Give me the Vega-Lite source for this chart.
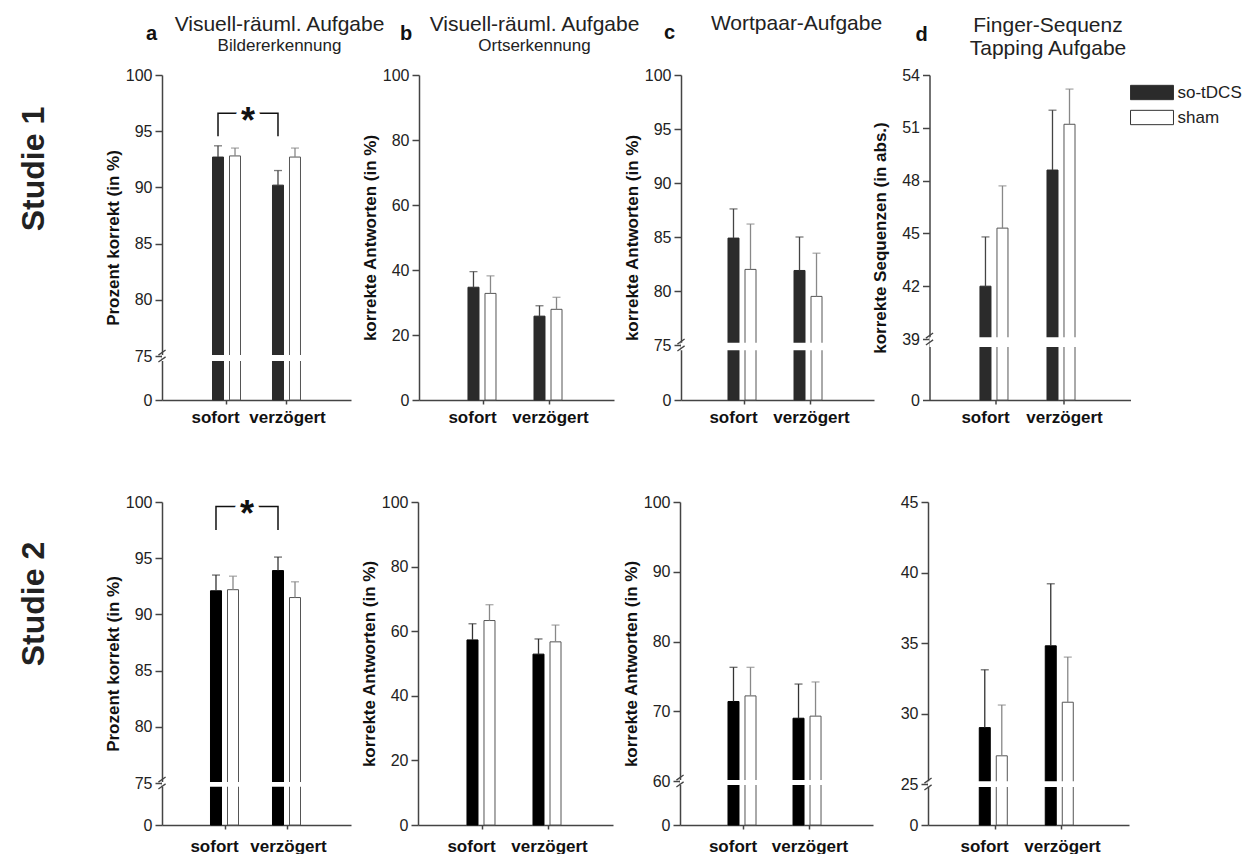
{
"$schema": "https://vega.github.io/schema/vega-lite/v6.json",
"padding": {"left": 18, "top": 13, "right": 3, "bottom": 0},
"config": {
 "font": "Liberation Sans",
 "view": {"stroke": null},
 "axis": {"zindex": 1, "grid": false, "domainColor": "#444444", "domainWidth": 1.5, "tickColor": "#444444", "tickWidth": 1.5, "labelColor": "#222222", "titleColor": "#111111"},
 "axisX": {"tickSize": 4, "labelFontSize": 17, "labelFontWeight": "bold", "labelPadding": 5, "labelAngle": 0, "labelColor": "#111111", "labelOffset": {"condition": {"test": "datum.value == 'sofort'", "value": -11}, "value": 1}},
 "axisY": {"tickSize": 7, "labelFontSize": 16, "labelPadding": 3, "titleFontSize": 17, "titleFontWeight": "bold", "minExtent": 38, "maxExtent": 38, "titlePadding": 2},
 "title": {"font": "Liberation Sans", "color": "#222222"}
},
"datasets": {
 "bars": [
  {"panel":"a1","time":"sofort","group":"so-tDCS","value":92.7,"upper":93.7},
  {"panel":"a1","time":"sofort","group":"sham","value":92.8,"upper":93.5},
  {"panel":"a1","time":"verzögert","group":"so-tDCS","value":90.2,"upper":91.5},
  {"panel":"a1","time":"verzögert","group":"sham","value":92.7,"upper":93.5},
  {"panel":"b1","time":"sofort","group":"so-tDCS","value":34.7,"upper":39.5},
  {"panel":"b1","time":"sofort","group":"sham","value":32.8,"upper":38.2},
  {"panel":"b1","time":"verzögert","group":"so-tDCS","value":25.8,"upper":29.0},
  {"panel":"b1","time":"verzögert","group":"sham","value":27.9,"upper":31.6},
  {"panel":"c1","time":"sofort","group":"so-tDCS","value":84.9,"upper":87.6},
  {"panel":"c1","time":"sofort","group":"sham","value":82.0,"upper":86.2},
  {"panel":"c1","time":"verzögert","group":"so-tDCS","value":81.9,"upper":85.0},
  {"panel":"c1","time":"verzögert","group":"sham","value":79.5,"upper":83.5},
  {"panel":"d1","time":"sofort","group":"so-tDCS","value":42.0,"upper":44.8},
  {"panel":"d1","time":"sofort","group":"sham","value":45.3,"upper":47.7},
  {"panel":"d1","time":"verzögert","group":"so-tDCS","value":48.6,"upper":52.0},
  {"panel":"d1","time":"verzögert","group":"sham","value":51.2,"upper":53.2},
  {"panel":"a2","time":"sofort","group":"so-tDCS","value":92.1,"upper":93.5},
  {"panel":"a2","time":"sofort","group":"sham","value":92.2,"upper":93.4},
  {"panel":"a2","time":"verzögert","group":"so-tDCS","value":93.9,"upper":95.1},
  {"panel":"a2","time":"verzögert","group":"sham","value":91.5,"upper":92.9},
  {"panel":"b2","time":"sofort","group":"so-tDCS","value":57.3,"upper":62.3},
  {"panel":"b2","time":"sofort","group":"sham","value":63.3,"upper":68.2},
  {"panel":"b2","time":"verzögert","group":"so-tDCS","value":52.9,"upper":57.6},
  {"panel":"b2","time":"verzögert","group":"sham","value":56.7,"upper":61.9},
  {"panel":"c2","time":"sofort","group":"so-tDCS","value":71.4,"upper":76.3},
  {"panel":"c2","time":"sofort","group":"sham","value":72.2,"upper":76.3},
  {"panel":"c2","time":"verzögert","group":"so-tDCS","value":69.0,"upper":73.9},
  {"panel":"c2","time":"verzögert","group":"sham","value":69.3,"upper":74.2},
  {"panel":"d2","time":"sofort","group":"so-tDCS","value":29.0,"upper":33.1},
  {"panel":"d2","time":"sofort","group":"sham","value":27.0,"upper":30.6},
  {"panel":"d2","time":"verzögert","group":"so-tDCS","value":34.8,"upper":39.2},
  {"panel":"d2","time":"verzögert","group":"sham","value":30.8,"upper":34.0}
 ],
 "brk": [
  {"panel":"a1","brk":75,"lo":66.5,"hi":75.1},
  {"panel":"c1","brk":75,"lo":68,"hi":75.2},
  {"panel":"d1","brk":39,"lo":33.9,"hi":39.1},
  {"panel":"a2","brk":75,"lo":68.2,"hi":75.1},
  {"panel":"c2","brk":60,"lo":54.5,"hi":60.15},
  {"panel":"d2","brk":25,"lo":23.2,"hi":25.2}
 ],
 "sig": [
  {"panel":"a1","time":"sofort","group":"so-tDCS","y":94.55,"ord":1},
  {"panel":"a1","time":"sofort","group":"so-tDCS","y":96.6,"ord":2},
  {"panel":"a1","time":"verzögert","group":"so-tDCS","y":96.6,"ord":3},
  {"panel":"a1","time":"verzögert","group":"so-tDCS","y":94.55,"ord":4},
  {"panel":"a2","time":"sofort","group":"so-tDCS","y":97.5,"ord":1},
  {"panel":"a2","time":"sofort","group":"so-tDCS","y":99.6,"ord":2},
  {"panel":"a2","time":"verzögert","group":"so-tDCS","y":99.6,"ord":3},
  {"panel":"a2","time":"verzögert","group":"so-tDCS","y":97.5,"ord":4}
 ],
 "star": [
  {"panel":"a1","time":"sofort","group":"so-tDCS","y":96.6,"label":"*"},
  {"panel":"a2","time":"sofort","group":"so-tDCS","y":99.6,"label":"*"}
 ]
},
"spacing": 69,
"resolve": {"scale": {"fill": "independent"}, "legend": {"fill": "independent"}},
"vconcat": [
 {
  "title": {"text": "Studie 1", "orient": "left", "anchor": "middle", "fontSize": 32, "fontWeight": "bold", "offset": 53, "dx": 50, "color": "#222222"},
  "spacing": -11.5,
  "resolve": {"scale": {"fill": "independent"}, "legend": {"fill": "independent"}},
  "hconcat": [
   {
    "spacing": -17,
    "resolve": {"scale": {"fill": "independent"}, "legend": {"fill": "independent"}},
    "hconcat": [
     {
      "spacing": -24,
      "resolve": {"scale": {"fill": "independent"}, "legend": {"fill": "independent"}},
      "hconcat": [
       {
        "title": {"text": "a", "anchor": "start", "fontSize": 20, "fontWeight": "bold", "dx": 42, "dy": 30, "offset": 0, "color": "#111111"},
        "vconcat": [
         {
          "width": 189, "height": 325,
          "title": {"text": "Visuell-räuml. Aufgabe", "subtitle": "Bildererkennung", "frame": "group", "anchor": "middle", "dx": 23, "offset": 13, "fontSize": 21, "fontWeight": "normal", "subtitleFontSize": 17, "subtitleColor": "#222222", "subtitlePadding": 3},
          "layer": [
           {"layer": [
            {"data": {"name": "bars"}, "transform": [{"filter": "datum.panel == 'a1'"}],
             "mark": {"type": "bar", "strokeWidth": 1},
             "encoding": {
              "x": {"field": "time", "type": "nominal", "sort": ["sofort", "verzögert"], "scale": {"paddingInner": 0.533, "paddingOuter": 0.842}, "axis": {"title": null}},
              "xOffset": {"field": "group", "type": "nominal", "sort": ["so-tDCS", "sham"], "scale": {"paddingInner": 0.353, "paddingOuter": 0}},
              "y": {"field": "value", "type": "quantitative", "scale": {"domain": [0, 75, 100], "range": [325, 281, 0], "nice": false, "zero": false}, "axis": {"title": "Prozent korrekt (in %)", "values": [0, 75, 80, 85, 90, 95, 100]}},
              "fill": {"field": "group", "type": "nominal", "scale": {"domain": ["so-tDCS", "sham"], "range": ["#2b2b2b", "#ffffff"]}, "legend": null},
              "stroke": {"condition": {"test": "datum.group == 'sham'", "value": "#555555"}, "value": "#2b2b2b"}
             }},
            {"data": {"name": "brk"}, "transform": [{"filter": "datum.panel == 'a1'"}],
             "mark": {"type": "rect", "fill": "#ffffff"},
             "encoding": {"y": {"field": "lo", "type": "quantitative", "title": "Prozent korrekt (in %)"}, "y2": {"field": "hi"}}},
            {"data": {"name": "bars"}, "transform": [{"filter": "datum.panel == 'a1'"}],
             "mark": {"type": "rule", "strokeWidth": 1.3},
             "encoding": {
              "x": {"field": "time", "type": "nominal", "sort": ["sofort", "verzögert"], "title": null},
              "xOffset": {"field": "group", "type": "nominal", "sort": ["so-tDCS", "sham"]},
              "y": {"field": "value", "type": "quantitative", "title": "Prozent korrekt (in %)"}, "y2": {"field": "upper"},
              "color": {"condition": {"test": "datum.group == 'sham'", "value": "#888888"}, "value": "#444444"}}},
            {"data": {"name": "bars"}, "transform": [{"filter": "datum.panel == 'a1'"}],
             "mark": {"type": "tick", "orient": "horizontal", "size": 8, "thickness": 1.3},
             "encoding": {
              "x": {"field": "time", "type": "nominal", "sort": ["sofort", "verzögert"], "title": null},
              "xOffset": {"field": "group", "type": "nominal", "sort": ["so-tDCS", "sham"]},
              "y": {"field": "upper", "type": "quantitative", "title": "Prozent korrekt (in %)"},
              "color": {"condition": {"test": "datum.group == 'sham'", "value": "#888888"}, "value": "#444444"}}},
            {"data": {"name": "sig"}, "transform": [{"filter": "datum.panel == 'a1'"}],
             "mark": {"type": "line", "color": "#111111", "strokeWidth": 1.5},
             "encoding": {
              "x": {"field": "time", "type": "nominal", "sort": ["sofort", "verzögert"], "title": null},
              "xOffset": {"field": "group", "type": "nominal", "sort": ["so-tDCS", "sham"]},
              "y": {"field": "y", "type": "quantitative", "title": "Prozent korrekt (in %)"},
              "order": {"field": "ord", "type": "quantitative"}}},
            {"data": {"name": "star"}, "transform": [{"filter": "datum.panel == 'a1'"}],
             "mark": {"type": "text", "dx": 30, "dy": 20, "fontSize": 36, "fontWeight": "bold", "baseline": "alphabetic", "align": "center", "fill": "#ffffff", "stroke": "#ffffff", "strokeWidth": 9},
             "encoding": {
              "x": {"field": "time", "type": "nominal", "sort": ["sofort", "verzögert"], "title": null},
              "xOffset": {"field": "group", "type": "nominal", "sort": ["so-tDCS", "sham"]},
              "y": {"field": "y", "type": "quantitative", "title": "Prozent korrekt (in %)"},
              "text": {"field": "label"}}},
            {"data": {"name": "star"}, "transform": [{"filter": "datum.panel == 'a1'"}],
             "mark": {"type": "text", "dx": 30, "dy": 20, "fontSize": 36, "fontWeight": "bold", "baseline": "alphabetic", "align": "center", "fill": "#111111"},
             "encoding": {
              "x": {"field": "time", "type": "nominal", "sort": ["sofort", "verzögert"], "title": null},
              "xOffset": {"field": "group", "type": "nominal", "sort": ["so-tDCS", "sham"]},
              "y": {"field": "y", "type": "quantitative", "title": "Prozent korrekt (in %)"},
              "text": {"field": "label"}}}
           ]},
           {"data": {"name": "brk"}, "transform": [{"filter": "datum.panel == 'a1'"}],
            "mark": {"type": "point", "shape": "M-0.6,-0.15L0.6,-1M-0.6,1L0.6,0.15", "size": 144, "filled": false, "stroke": "#444444", "strokeWidth": 1.3, "opacity": 1},
            "encoding": {"x": {"datum": 0, "type": "quantitative", "scale": {"domain": [0, 1]}, "axis": null}, "y": {"field": "brk", "type": "quantitative", "title": "Prozent korrekt (in %)"}}}
          ],
          "resolve": {"scale": {"x": "independent"}}
         }
        ]
       },
       {
        "title": {"text": "b", "anchor": "start", "fontSize": 20, "fontWeight": "bold", "dx": 39, "dy": 30, "offset": 0, "color": "#111111"},
        "vconcat": [
         {
          "width": 195, "height": 325,
          "title": {"text": "Visuell-räuml. Aufgabe", "subtitle": "Ortserkennung", "frame": "group", "anchor": "middle", "dx": 18, "offset": 13, "fontSize": 21, "fontWeight": "normal", "subtitleFontSize": 17, "subtitleColor": "#222222", "subtitlePadding": 3},
          "layer": [
            {"data": {"name": "bars"}, "transform": [{"filter": "datum.panel == 'b1'"}],
             "mark": {"type": "bar", "strokeWidth": 1},
             "encoding": {
              "x": {"field": "time", "type": "nominal", "sort": ["sofort", "verzögert"], "scale": {"paddingInner": 0.53, "paddingOuter": 0.742}, "axis": {"title": null}},
              "xOffset": {"field": "group", "type": "nominal", "sort": ["so-tDCS", "sham"], "scale": {"paddingInner": 0.368, "paddingOuter": 0}},
              "y": {"field": "value", "type": "quantitative", "scale": {"domain": [0, 100], "range": [325, 0], "nice": false, "zero": false}, "axis": {"title": "korrekte Antworten (in %)", "values": [0, 20, 40, 60, 80, 100]}},
              "fill": {"field": "group", "type": "nominal", "scale": {"domain": ["so-tDCS", "sham"], "range": ["#2b2b2b", "#ffffff"]}, "legend": null},
              "stroke": {"condition": {"test": "datum.group == 'sham'", "value": "#555555"}, "value": "#2b2b2b"}
             }},
            {"data": {"name": "bars"}, "transform": [{"filter": "datum.panel == 'b1'"}],
             "mark": {"type": "rule", "strokeWidth": 1.3},
             "encoding": {
              "x": {"field": "time", "type": "nominal", "sort": ["sofort", "verzögert"], "title": null},
              "xOffset": {"field": "group", "type": "nominal", "sort": ["so-tDCS", "sham"]},
              "y": {"field": "value", "type": "quantitative", "title": "korrekte Antworten (in %)"}, "y2": {"field": "upper"},
              "color": {"condition": {"test": "datum.group == 'sham'", "value": "#888888"}, "value": "#444444"}}},
            {"data": {"name": "bars"}, "transform": [{"filter": "datum.panel == 'b1'"}],
             "mark": {"type": "tick", "orient": "horizontal", "size": 8, "thickness": 1.3},
             "encoding": {
              "x": {"field": "time", "type": "nominal", "sort": ["sofort", "verzögert"], "title": null},
              "xOffset": {"field": "group", "type": "nominal", "sort": ["so-tDCS", "sham"]},
              "y": {"field": "upper", "type": "quantitative", "title": "korrekte Antworten (in %)"},
              "color": {"condition": {"test": "datum.group == 'sham'", "value": "#888888"}, "value": "#444444"}}}
          ]
         }
        ]
       }
      ]
     },
     {
      "title": {"text": "c", "anchor": "start", "fontSize": 20, "fontWeight": "bold", "dx": 41, "dy": 30, "offset": 0, "color": "#111111"},
      "vconcat": [
       {
        "width": 193, "height": 325,
        "title": {"text": "Wortpaar-Aufgabe", "frame": "group", "anchor": "middle", "dx": 19, "offset": 33, "fontSize": 21, "fontWeight": "normal"},
        "layer": [
         {"layer": [
          {"data": {"name": "bars"}, "transform": [{"filter": "datum.panel == 'c1'"}],
           "mark": {"type": "bar", "strokeWidth": 1},
           "encoding": {
            "x": {"field": "time", "type": "nominal", "sort": ["sofort", "verzögert"], "scale": {"paddingInner": 0.5, "paddingOuter": 0.712}, "axis": {"title": null}},
            "xOffset": {"field": "group", "type": "nominal", "sort": ["so-tDCS", "sham"], "scale": {"paddingInner": 0.39, "paddingOuter": 0}},
            "y": {"field": "value", "type": "quantitative", "scale": {"domain": [0, 75, 100], "range": [325, 270, 0], "nice": false, "zero": false}, "axis": {"title": "korrekte Antworten (in %)", "values": [0, 75, 80, 85, 90, 95, 100]}},
            "fill": {"field": "group", "type": "nominal", "scale": {"domain": ["so-tDCS", "sham"], "range": ["#2b2b2b", "#ffffff"]}, "legend": null},
            "stroke": {"condition": {"test": "datum.group == 'sham'", "value": "#555555"}, "value": "#2b2b2b"}
           }},
          {"data": {"name": "brk"}, "transform": [{"filter": "datum.panel == 'c1'"}],
           "mark": {"type": "rect", "fill": "#ffffff"},
           "encoding": {"y": {"field": "lo", "type": "quantitative", "title": "korrekte Antworten (in %)"}, "y2": {"field": "hi"}}},
          {"data": {"name": "bars"}, "transform": [{"filter": "datum.panel == 'c1'"}],
           "mark": {"type": "rule", "strokeWidth": 1.3},
           "encoding": {
            "x": {"field": "time", "type": "nominal", "sort": ["sofort", "verzögert"], "title": null},
            "xOffset": {"field": "group", "type": "nominal", "sort": ["so-tDCS", "sham"]},
            "y": {"field": "value", "type": "quantitative", "title": "korrekte Antworten (in %)"}, "y2": {"field": "upper"},
            "color": {"condition": {"test": "datum.group == 'sham'", "value": "#888888"}, "value": "#444444"}}},
          {"data": {"name": "bars"}, "transform": [{"filter": "datum.panel == 'c1'"}],
           "mark": {"type": "tick", "orient": "horizontal", "size": 8, "thickness": 1.3},
           "encoding": {
            "x": {"field": "time", "type": "nominal", "sort": ["sofort", "verzögert"], "title": null},
            "xOffset": {"field": "group", "type": "nominal", "sort": ["so-tDCS", "sham"]},
            "y": {"field": "upper", "type": "quantitative", "title": "korrekte Antworten (in %)"},
            "color": {"condition": {"test": "datum.group == 'sham'", "value": "#888888"}, "value": "#444444"}}}
         ]},
         {"data": {"name": "brk"}, "transform": [{"filter": "datum.panel == 'c1'"}],
          "mark": {"type": "point", "shape": "M-0.6,-0.15L0.6,-1M-0.6,1L0.6,0.15", "size": 144, "filled": false, "stroke": "#444444", "strokeWidth": 1.3, "opacity": 1},
          "encoding": {"x": {"datum": 0, "type": "quantitative", "scale": {"domain": [0, 1]}, "axis": null}, "y": {"field": "brk", "type": "quantitative", "title": "korrekte Antworten (in %)"}}}
        ],
        "resolve": {"scale": {"x": "independent"}}
       }
      ]
     }
    ]
   },
   {
    "title": {"text": "d", "anchor": "start", "fontSize": 20, "fontWeight": "bold", "dx": 44, "dy": 30, "offset": 0, "color": "#111111"},
    "vconcat": [
     {
      "width": 201, "height": 325,
      "title": {"text": ["Finger-Sequenz", "Tapping Aufgabe"], "frame": "group", "anchor": "middle", "dx": 18, "offset": 8, "fontSize": 21, "fontWeight": "normal", "lineHeight": 23},
      "layer": [
       {"layer": [
        {"data": {"name": "bars"}, "transform": [{"filter": "datum.panel == 'd1'"}],
         "mark": {"type": "bar", "strokeWidth": 1},
         "encoding": {
          "x": {"field": "time", "type": "nominal", "sort": ["sofort", "verzögert"], "scale": {"paddingInner": 0.507, "paddingOuter": 0.753}, "axis": {"title": null}},
          "xOffset": {"field": "group", "type": "nominal", "sort": ["so-tDCS", "sham"], "scale": {"paddingInner": 0.35, "paddingOuter": 0}},
          "y": {"field": "value", "type": "quantitative", "scale": {"domain": [0, 39, 54], "range": [325, 264, 0], "nice": false, "zero": false}, "axis": {"title": "korrekte Sequenzen (in abs.)", "values": [0, 39, 42, 45, 48, 51, 54]}},
          "fill": {"field": "group", "type": "nominal", "scale": {"domain": ["so-tDCS", "sham"], "range": ["#2b2b2b", "#ffffff"]},
            "legend": {"orient": "none", "legendX": 214, "legendY": 9, "title": null, "symbolType": "M-3,-1H3V1H-3Z", "symbolSize": 205, "symbolStrokeColor": "#333333", "symbolStrokeWidth": 1, "labelFontSize": 17, "labelColor": "#222222", "labelOffset": 17, "rowPadding": 6, "padding": 0}},
          "stroke": {"condition": {"test": "datum.group == 'sham'", "value": "#555555"}, "value": "#2b2b2b"}
         }},
        {"data": {"name": "brk"}, "transform": [{"filter": "datum.panel == 'd1'"}],
         "mark": {"type": "rect", "fill": "#ffffff"},
         "encoding": {"y": {"field": "lo", "type": "quantitative", "title": "korrekte Sequenzen (in abs.)"}, "y2": {"field": "hi"}}},
        {"data": {"name": "bars"}, "transform": [{"filter": "datum.panel == 'd1'"}],
         "mark": {"type": "rule", "strokeWidth": 1.3},
         "encoding": {
          "x": {"field": "time", "type": "nominal", "sort": ["sofort", "verzögert"], "title": null},
          "xOffset": {"field": "group", "type": "nominal", "sort": ["so-tDCS", "sham"]},
          "y": {"field": "value", "type": "quantitative", "title": "korrekte Sequenzen (in abs.)"}, "y2": {"field": "upper"},
          "color": {"condition": {"test": "datum.group == 'sham'", "value": "#888888"}, "value": "#444444"}}},
        {"data": {"name": "bars"}, "transform": [{"filter": "datum.panel == 'd1'"}],
         "mark": {"type": "tick", "orient": "horizontal", "size": 8, "thickness": 1.3},
         "encoding": {
          "x": {"field": "time", "type": "nominal", "sort": ["sofort", "verzögert"], "title": null},
          "xOffset": {"field": "group", "type": "nominal", "sort": ["so-tDCS", "sham"]},
          "y": {"field": "upper", "type": "quantitative", "title": "korrekte Sequenzen (in abs.)"},
          "color": {"condition": {"test": "datum.group == 'sham'", "value": "#888888"}, "value": "#444444"}}}
       ]},
       {"data": {"name": "brk"}, "transform": [{"filter": "datum.panel == 'd1'"}],
        "mark": {"type": "point", "shape": "M-0.6,-0.15L0.6,-1M-0.6,1L0.6,0.15", "size": 144, "filled": false, "stroke": "#444444", "strokeWidth": 1.3, "opacity": 1},
        "encoding": {"x": {"datum": 0, "type": "quantitative", "scale": {"domain": [0, 1]}, "axis": null}, "y": {"field": "brk", "type": "quantitative", "title": "korrekte Sequenzen (in abs.)"}}}
      ],
      "resolve": {"scale": {"x": "independent"}}
     }
    ]
   }
  ]
 },
 {
  "title": {"text": "Studie 2", "orient": "left", "anchor": "middle", "fontSize": 32, "fontWeight": "bold", "offset": 53, "dx": 70, "color": "#222222"},
  "spacing": 17,
  "resolve": {"scale": {"fill": "independent"}, "legend": {"fill": "independent"}},
  "hconcat": [
   {
    "spacing": 9,
    "resolve": {"scale": {"fill": "independent"}, "legend": {"fill": "independent"}},
    "hconcat": [
     {
      "spacing": 9,
      "resolve": {"scale": {"fill": "independent"}, "legend": {"fill": "independent"}},
      "hconcat": [
       {
        "width": 189, "height": 323,
        "layer": [
         {"layer": [
          {"data": {"name": "bars"}, "transform": [{"filter": "datum.panel == 'a2'"}],
           "mark": {"type": "bar", "strokeWidth": 1},
           "encoding": {
            "x": {"field": "time", "type": "nominal", "sort": ["sofort", "verzögert"], "scale": {"paddingInner": 0.516, "paddingOuter": 0.782}, "axis": {"title": null, "labelPadding": 9}},
            "xOffset": {"field": "group", "type": "nominal", "sort": ["so-tDCS", "sham"], "scale": {"paddingInner": 0.333, "paddingOuter": 0}},
            "y": {"field": "value", "type": "quantitative", "scale": {"domain": [0, 75, 100], "range": [323, 281, 0], "nice": false, "zero": false}, "axis": {"title": "Prozent korrekt (in %)", "values": [0, 75, 80, 85, 90, 95, 100]}},
            "fill": {"field": "group", "type": "nominal", "scale": {"domain": ["so-tDCS", "sham"], "range": ["#000000", "#ffffff"]}, "legend": null},
            "stroke": {"condition": {"test": "datum.group == 'sham'", "value": "#555555"}, "value": "#000000"}
           }},
          {"data": {"name": "brk"}, "transform": [{"filter": "datum.panel == 'a2'"}],
           "mark": {"type": "rect", "fill": "#ffffff"},
           "encoding": {"y": {"field": "lo", "type": "quantitative", "title": "Prozent korrekt (in %)"}, "y2": {"field": "hi"}}},
          {"data": {"name": "bars"}, "transform": [{"filter": "datum.panel == 'a2'"}],
           "mark": {"type": "rule", "strokeWidth": 1.3},
           "encoding": {
            "x": {"field": "time", "type": "nominal", "sort": ["sofort", "verzögert"], "title": null},
            "xOffset": {"field": "group", "type": "nominal", "sort": ["so-tDCS", "sham"]},
            "y": {"field": "value", "type": "quantitative", "title": "Prozent korrekt (in %)"}, "y2": {"field": "upper"},
            "color": {"condition": {"test": "datum.group == 'sham'", "value": "#888888"}, "value": "#333333"}}},
          {"data": {"name": "bars"}, "transform": [{"filter": "datum.panel == 'a2'"}],
           "mark": {"type": "tick", "orient": "horizontal", "size": 8, "thickness": 1.3},
           "encoding": {
            "x": {"field": "time", "type": "nominal", "sort": ["sofort", "verzögert"], "title": null},
            "xOffset": {"field": "group", "type": "nominal", "sort": ["so-tDCS", "sham"]},
            "y": {"field": "upper", "type": "quantitative", "title": "Prozent korrekt (in %)"},
            "color": {"condition": {"test": "datum.group == 'sham'", "value": "#888888"}, "value": "#333333"}}},
          {"data": {"name": "sig"}, "transform": [{"filter": "datum.panel == 'a2'"}],
           "mark": {"type": "line", "color": "#111111", "strokeWidth": 1.5},
           "encoding": {
            "x": {"field": "time", "type": "nominal", "sort": ["sofort", "verzögert"], "title": null},
            "xOffset": {"field": "group", "type": "nominal", "sort": ["so-tDCS", "sham"]},
            "y": {"field": "y", "type": "quantitative", "title": "Prozent korrekt (in %)"},
            "order": {"field": "ord", "type": "quantitative"}}},
          {"data": {"name": "star"}, "transform": [{"filter": "datum.panel == 'a2'"}],
           "mark": {"type": "text", "dx": 31, "dy": 20, "fontSize": 36, "fontWeight": "bold", "baseline": "alphabetic", "align": "center", "fill": "#ffffff", "stroke": "#ffffff", "strokeWidth": 9},
           "encoding": {
            "x": {"field": "time", "type": "nominal", "sort": ["sofort", "verzögert"], "title": null},
            "xOffset": {"field": "group", "type": "nominal", "sort": ["so-tDCS", "sham"]},
            "y": {"field": "y", "type": "quantitative", "title": "Prozent korrekt (in %)"},
            "text": {"field": "label"}}},
          {"data": {"name": "star"}, "transform": [{"filter": "datum.panel == 'a2'"}],
           "mark": {"type": "text", "dx": 31, "dy": 20, "fontSize": 36, "fontWeight": "bold", "baseline": "alphabetic", "align": "center", "fill": "#111111"},
           "encoding": {
            "x": {"field": "time", "type": "nominal", "sort": ["sofort", "verzögert"], "title": null},
            "xOffset": {"field": "group", "type": "nominal", "sort": ["so-tDCS", "sham"]},
            "y": {"field": "y", "type": "quantitative", "title": "Prozent korrekt (in %)"},
            "text": {"field": "label"}}}
         ]},
         {"data": {"name": "brk"}, "transform": [{"filter": "datum.panel == 'a2'"}],
          "mark": {"type": "point", "shape": "M-0.6,-0.15L0.6,-1M-0.6,1L0.6,0.15", "size": 144, "filled": false, "stroke": "#444444", "strokeWidth": 1.3, "opacity": 1},
          "encoding": {"x": {"datum": 0, "type": "quantitative", "scale": {"domain": [0, 1]}, "axis": null}, "y": {"field": "brk", "type": "quantitative", "title": "Prozent korrekt (in %)"}}}
        ],
        "resolve": {"scale": {"x": "independent"}}
       },
       {
        "width": 195, "height": 323,
        "layer": [
          {"data": {"name": "bars"}, "transform": [{"filter": "datum.panel == 'b2'"}],
           "mark": {"type": "bar", "strokeWidth": 1},
           "encoding": {
            "x": {"field": "time", "type": "nominal", "sort": ["sofort", "verzögert"], "scale": {"paddingInner": 0.53, "paddingOuter": 0.742}, "axis": {"title": null, "labelPadding": 9}},
            "xOffset": {"field": "group", "type": "nominal", "sort": ["so-tDCS", "sham"], "scale": {"paddingInner": 0.368, "paddingOuter": 0}},
            "y": {"field": "value", "type": "quantitative", "scale": {"domain": [0, 100], "range": [323, 0], "nice": false, "zero": false}, "axis": {"title": "korrekte Antworten (in %)", "values": [0, 20, 40, 60, 80, 100]}},
            "fill": {"field": "group", "type": "nominal", "scale": {"domain": ["so-tDCS", "sham"], "range": ["#000000", "#ffffff"]}, "legend": null},
            "stroke": {"condition": {"test": "datum.group == 'sham'", "value": "#555555"}, "value": "#000000"}
           }},
          {"data": {"name": "bars"}, "transform": [{"filter": "datum.panel == 'b2'"}],
           "mark": {"type": "rule", "strokeWidth": 1.3},
           "encoding": {
            "x": {"field": "time", "type": "nominal", "sort": ["sofort", "verzögert"], "title": null},
            "xOffset": {"field": "group", "type": "nominal", "sort": ["so-tDCS", "sham"]},
            "y": {"field": "value", "type": "quantitative", "title": "korrekte Antworten (in %)"}, "y2": {"field": "upper"},
            "color": {"condition": {"test": "datum.group == 'sham'", "value": "#888888"}, "value": "#333333"}}},
          {"data": {"name": "bars"}, "transform": [{"filter": "datum.panel == 'b2'"}],
           "mark": {"type": "tick", "orient": "horizontal", "size": 8, "thickness": 1.3},
           "encoding": {
            "x": {"field": "time", "type": "nominal", "sort": ["sofort", "verzögert"], "title": null},
            "xOffset": {"field": "group", "type": "nominal", "sort": ["so-tDCS", "sham"]},
            "y": {"field": "upper", "type": "quantitative", "title": "korrekte Antworten (in %)"},
            "color": {"condition": {"test": "datum.group == 'sham'", "value": "#888888"}, "value": "#333333"}}}
        ]
       }
      ]
     },
     {
      "width": 193, "height": 323,
      "layer": [
       {"layer": [
        {"data": {"name": "bars"}, "transform": [{"filter": "datum.panel == 'c2'"}],
         "mark": {"type": "bar", "strokeWidth": 1},
         "encoding": {
          "x": {"field": "time", "type": "nominal", "sort": ["sofort", "verzögert"], "scale": {"paddingInner": 0.508, "paddingOuter": 0.738}, "axis": {"title": null, "labelPadding": 9}},
          "xOffset": {"field": "group", "type": "nominal", "sort": ["so-tDCS", "sham"], "scale": {"paddingInner": 0.4, "paddingOuter": 0}},
          "y": {"field": "value", "type": "quantitative", "scale": {"domain": [0, 60, 100], "range": [323, 279, 0], "nice": false, "zero": false}, "axis": {"title": "korrekte Antworten (in %)", "values": [0, 60, 70, 80, 90, 100]}},
          "fill": {"field": "group", "type": "nominal", "scale": {"domain": ["so-tDCS", "sham"], "range": ["#000000", "#ffffff"]}, "legend": null},
          "stroke": {"condition": {"test": "datum.group == 'sham'", "value": "#555555"}, "value": "#000000"}
         }},
        {"data": {"name": "brk"}, "transform": [{"filter": "datum.panel == 'c2'"}],
         "mark": {"type": "rect", "fill": "#ffffff"},
         "encoding": {"y": {"field": "lo", "type": "quantitative", "title": "korrekte Antworten (in %)"}, "y2": {"field": "hi"}}},
        {"data": {"name": "bars"}, "transform": [{"filter": "datum.panel == 'c2'"}],
         "mark": {"type": "rule", "strokeWidth": 1.3},
         "encoding": {
          "x": {"field": "time", "type": "nominal", "sort": ["sofort", "verzögert"], "title": null},
          "xOffset": {"field": "group", "type": "nominal", "sort": ["so-tDCS", "sham"]},
          "y": {"field": "value", "type": "quantitative", "title": "korrekte Antworten (in %)"}, "y2": {"field": "upper"},
          "color": {"condition": {"test": "datum.group == 'sham'", "value": "#888888"}, "value": "#333333"}}},
        {"data": {"name": "bars"}, "transform": [{"filter": "datum.panel == 'c2'"}],
         "mark": {"type": "tick", "orient": "horizontal", "size": 8, "thickness": 1.3},
         "encoding": {
          "x": {"field": "time", "type": "nominal", "sort": ["sofort", "verzögert"], "title": null},
          "xOffset": {"field": "group", "type": "nominal", "sort": ["so-tDCS", "sham"]},
          "y": {"field": "upper", "type": "quantitative", "title": "korrekte Antworten (in %)"},
          "color": {"condition": {"test": "datum.group == 'sham'", "value": "#888888"}, "value": "#333333"}}}
       ]},
       {"data": {"name": "brk"}, "transform": [{"filter": "datum.panel == 'c2'"}],
        "mark": {"type": "point", "shape": "M-0.6,-0.15L0.6,-1M-0.6,1L0.6,0.15", "size": 144, "filled": false, "stroke": "#444444", "strokeWidth": 1.3, "opacity": 1},
        "encoding": {"x": {"datum": 0, "type": "quantitative", "scale": {"domain": [0, 1]}, "axis": null}, "y": {"field": "brk", "type": "quantitative", "title": "korrekte Antworten (in %)"}}}
      ],
      "resolve": {"scale": {"x": "independent"}}
     }
    ]
   },
   {
    "width": 201, "height": 323,
    "layer": [
     {"layer": [
      {"data": {"name": "bars"}, "transform": [{"filter": "datum.panel == 'd2'"}],
       "mark": {"type": "bar", "strokeWidth": 1},
       "encoding": {
        "x": {"field": "time", "type": "nominal", "sort": ["sofort", "verzögert"], "scale": {"paddingInner": 0.508, "paddingOuter": 0.777}, "axis": {"title": null, "labelPadding": 9}},
        "xOffset": {"field": "group", "type": "nominal", "sort": ["so-tDCS", "sham"], "scale": {"paddingInner": 0.375, "paddingOuter": 0}},
        "y": {"field": "value", "type": "quantitative", "scale": {"domain": [0, 25, 45], "range": [323, 282, 0], "nice": false, "zero": false}, "axis": {"title": null, "values": [0, 25, 30, 35, 40, 45]}},
        "fill": {"field": "group", "type": "nominal", "scale": {"domain": ["so-tDCS", "sham"], "range": ["#000000", "#ffffff"]}, "legend": null},
        "stroke": {"condition": {"test": "datum.group == 'sham'", "value": "#555555"}, "value": "#000000"}
       }},
      {"data": {"name": "brk"}, "transform": [{"filter": "datum.panel == 'd2'"}],
       "mark": {"type": "rect", "fill": "#ffffff"},
       "encoding": {"y": {"field": "lo", "type": "quantitative", "title": null}, "y2": {"field": "hi"}}},
      {"data": {"name": "bars"}, "transform": [{"filter": "datum.panel == 'd2'"}],
       "mark": {"type": "rule", "strokeWidth": 1.3},
       "encoding": {
        "x": {"field": "time", "type": "nominal", "sort": ["sofort", "verzögert"], "title": null},
        "xOffset": {"field": "group", "type": "nominal", "sort": ["so-tDCS", "sham"]},
        "y": {"field": "value", "type": "quantitative", "title": null}, "y2": {"field": "upper"},
        "color": {"condition": {"test": "datum.group == 'sham'", "value": "#888888"}, "value": "#333333"}}},
      {"data": {"name": "bars"}, "transform": [{"filter": "datum.panel == 'd2'"}],
       "mark": {"type": "tick", "orient": "horizontal", "size": 8, "thickness": 1.3},
       "encoding": {
        "x": {"field": "time", "type": "nominal", "sort": ["sofort", "verzögert"], "title": null},
        "xOffset": {"field": "group", "type": "nominal", "sort": ["so-tDCS", "sham"]},
        "y": {"field": "upper", "type": "quantitative", "title": null},
        "color": {"condition": {"test": "datum.group == 'sham'", "value": "#888888"}, "value": "#333333"}}}
     ]},
     {"data": {"name": "brk"}, "transform": [{"filter": "datum.panel == 'd2'"}],
      "mark": {"type": "point", "shape": "M-0.6,-0.15L0.6,-1M-0.6,1L0.6,0.15", "size": 144, "filled": false, "stroke": "#444444", "strokeWidth": 1.3, "opacity": 1},
      "encoding": {"x": {"datum": 0, "type": "quantitative", "scale": {"domain": [0, 1]}, "axis": null}, "y": {"field": "brk", "type": "quantitative", "title": null}}}
    ],
    "resolve": {"scale": {"x": "independent"}}
   }
  ]
 }
]
}
